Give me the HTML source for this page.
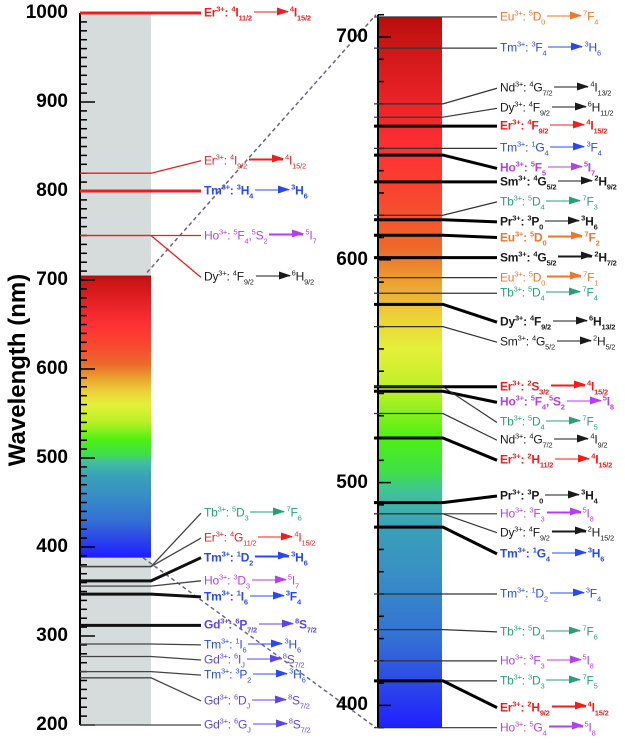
<!DOCTYPE html>
<html><head><meta charset="utf-8"><style>
body{margin:0;background:#fff;}
#wrap{position:relative;width:625px;height:743px;overflow:hidden;font-family:"Liberation Sans",sans-serif;}
svg{position:absolute;left:0;top:0;}
.lbl{position:absolute;white-space:nowrap;font-size:12px;line-height:13px;transform:translateY(-50%);letter-spacing:-0.2px;}
.lbl sup{font-size:7.5px;vertical-align:5px;line-height:0;}
.lbl sub{font-size:7.5px;vertical-align:-4px;line-height:0;}
.arr{display:inline-block;position:relative;width:34px;height:1.3px;vertical-align:4px;margin:0 2px;}
.arr::after{content:"";position:absolute;right:-1px;top:-4px;border-left:12px solid currentColor;border-top:4.5px solid transparent;border-bottom:4.5px solid transparent;}
.b{font-weight:bold;}
.tick{position:absolute;font-weight:bold;font-size:19px;transform:translateY(-50%);text-align:right;width:60px;}
</style></head><body>
<div id="wrap">
<svg id="svg" width="625" height="743"></svg>
<div style="position:absolute;left:18px;top:370px;transform:translate(-50%,-50%) rotate(-90deg);font-weight:bold;font-size:24px;white-space:nowrap">Wavelength (nm)</div>
</div>
<script>
// ---------- data ----------
const leftTicks=[200,300,400,500,600,700,800,900,1000];
const rightTicks=[400,500,600,700];
const leftWl=[1000,820,800,750,750,378,378,362,356,347,312,291,277,260,253,200];
const leftLabelWl=[1000,834,800,750,703,438,410,388,362,344,312,290,273,256,227,200];
const leftIon=["Er","Er","Tm","Ho","Dy","Tb","Er","Tm","Ho","Tm","Gd","Tm","Gd","Tm","Gd","Gd"];
const leftFrom=["<sup>4</sup>I<sub>11/2</sub>","<sup>4</sup>I<sub>9/2</sub>","<sup>3</sup>H<sub>4</sub>","<sup>5</sup>F<sub>4</sub>,<sup>5</sup>S<sub>2</sub>","<sup>4</sup>F<sub>9/2</sub>","<sup>5</sup>D<sub>3</sub>","<sup>4</sup>G<sub>11/2</sub>","<sup>1</sup>D<sub>2</sub>","<sup>3</sup>D<sub>3</sub>","<sup>1</sup>I<sub>6</sub>","<sup>6</sup>P<sub>7/2</sub>","<sup>1</sup>I<sub>6</sub>","<sup>6</sup>I<sub>J</sub>","<sup>3</sup>P<sub>2</sub>","<sup>6</sup>D<sub>J</sub>","<sup>6</sup>G<sub>J</sub>"];
const leftTo=["<sup>4</sup>I<sub>15/2</sub>","<sup>4</sup>I<sub>15/2</sub>","<sup>3</sup>H<sub>6</sub>","<sup>5</sup>I<sub>7</sub>","<sup>6</sup>H<sub>9/2</sub>","<sup>7</sup>F<sub>6</sub>","<sup>4</sup>I<sub>15/2</sub>","<sup>3</sup>H<sub>6</sub>","<sup>5</sup>I<sub>7</sub>","<sup>3</sup>F<sub>4</sub>","<sup>8</sup>S<sub>7/2</sub>","<sup>3</sup>H<sub>6</sub>","<sup>8</sup>S<sub>7/2</sub>","<sup>3</sup>H<sub>6</sub>","<sup>8</sup>S<sub>7/2</sub>","<sup>8</sup>S<sub>7/2</sub>"];
const leftBold=[1,0,1,0,0,0,0,1,0,1,1,0,0,0,0,0];
const rightWl=[709,695,670,664,660,650,647,635,620,618,611,601,592,585,580,570,543,541,543,531,520,491,486,486,480,450,434,420,411,411,390];
const rightLabelWl=[709,695,677,668,660,650,641,635,626,617,610,601,592,585,572,563,543,536,527,519,510,494,486,477.5,468,450,433,420,411,399,390];
const rightIon=["Eu","Tm","Nd","Dy","Er","Tm","Ho","Sm","Tb","Pr","Eu","Sm","Eu","Tb","Dy","Sm","Er","Ho","Tb","Nd","Er","Pr","Ho","Dy","Tm","Tm","Tb","Ho","Tb","Er","Ho"];
const rightFrom=["<sup>5</sup>D<sub>0</sub>","<sup>3</sup>F<sub>4</sub>","<sup>4</sup>G<sub>7/2</sub>","<sup>4</sup>F<sub>9/2</sub>","<sup>4</sup>F<sub>9/2</sub>","<sup>1</sup>G<sub>4</sub>","<sup>5</sup>F<sub>5</sub>","<sup>4</sup>G<sub>5/2</sub>","<sup>5</sup>D<sub>4</sub>","<sup>3</sup>P<sub>0</sub>","<sup>5</sup>D<sub>0</sub>","<sup>4</sup>G<sub>5/2</sub>","<sup>5</sup>D<sub>0</sub>","<sup>5</sup>D<sub>4</sub>","<sup>4</sup>F<sub>9/2</sub>","<sup>4</sup>G<sub>5/2</sub>","<sup>2</sup>S<sub>3/2</sub>","<sup>5</sup>F<sub>4</sub>,<sup>5</sup>S<sub>2</sub>","<sup>5</sup>D<sub>4</sub>","<sup>4</sup>G<sub>7/2</sub>","<sup>2</sup>H<sub>11/2</sub>","<sup>3</sup>P<sub>0</sub>","<sup>3</sup>F<sub>3</sub>","<sup>4</sup>F<sub>9/2</sub>","<sup>1</sup>G<sub>4</sub>","<sup>1</sup>D<sub>2</sub>","<sup>5</sup>D<sub>4</sub>","<sup>3</sup>F<sub>3</sub>","<sup>3</sup>D<sub>3</sub>","<sup>2</sup>H<sub>9/2</sub>","<sup>5</sup>G<sub>4</sub>"];
const rightTo=["<sup>7</sup>F<sub>4</sub>","<sup>3</sup>H<sub>6</sub>","<sup>4</sup>I<sub>13/2</sub>","<sup>6</sup>H<sub>11/2</sub>","<sup>4</sup>I<sub>15/2</sub>","<sup>3</sup>F<sub>4</sub>","<sup>5</sup>I<sub>7</sub>","<sup>2</sup>H<sub>9/2</sub>","<sup>7</sup>F<sub>3</sub>","<sup>3</sup>H<sub>6</sub>","<sup>7</sup>F<sub>2</sub>","<sup>2</sup>H<sub>7/2</sub>","<sup>7</sup>F<sub>1</sub>","<sup>7</sup>F<sub>4</sub>","<sup>6</sup>H<sub>13/2</sub>","<sup>2</sup>H<sub>5/2</sub>","<sup>4</sup>I<sub>15/2</sub>","<sup>5</sup>I<sub>8</sub>","<sup>7</sup>F<sub>5</sub>","<sup>4</sup>I<sub>9/2</sub>","<sup>4</sup>I<sub>15/2</sub>","<sup>3</sup>H<sub>4</sub>","<sup>5</sup>I<sub>8</sub>","<sup>2</sup>H<sub>15/2</sub>","<sup>3</sup>H<sub>6</sub>","<sup>3</sup>F<sub>4</sub>","<sup>7</sup>F<sub>6</sub>","<sup>5</sup>I<sub>8</sub>","<sup>7</sup>F<sub>5</sub>","<sup>4</sup>I<sub>15/2</sub>","<sup>5</sup>I<sub>8</sub>"];
const rightBold=[0,0,0,0,1,0,1,1,0,1,1,1,0,0,1,0,1,1,0,0,1,1,0,0,1,0,0,0,0,1,0];

const ionColor={Er:"#f21c1c",Tm:"#2848f5",Ho:"#b43ef0",Dy:"#1a1a1a",Tb:"#27a07a",Nd:"#1a1a1a",Sm:"#1a1a1a",Pr:"#1a1a1a",Eu:"#f0762c",Gd:"#5a46ee"};

const yL=v=>13+(1000-v)*0.89;
const yR=v=>37+(700-v)*2.228;
const svg=document.getElementById('svg'),wrap=document.getElementById('wrap');
const NS="http://www.w3.org/2000/svg";
function mk(t,a){const e=document.createElementNS(NS,t);for(const k in a)e.setAttribute(k,a[k]);svg.appendChild(e);return e;}

const specWl=[710,700,680,650,625,605,590,575,560,540,520,505,495,480,460,430,410,390];
const specCol=["#b80c0c","#c81414","#e01e22","#ff3034","#f84a30","#ec6a2a","#eca030","#ecd038","#e4f03a","#b8f024","#4cf014","#40e048","#40c0a0","#3aa0b8","#3890c4","#3470d4","#2c48e8","#2020ff"];
const defs=mk('defs',{});
function grad(id,top,bot){
  const g=document.createElementNS(NS,'linearGradient');
  g.setAttribute('id',id);g.setAttribute('x1','0');g.setAttribute('x2','0');g.setAttribute('y1','0');g.setAttribute('y2','1');
  specWl.forEach((w,i)=>{const s=document.createElementNS(NS,'stop');
    s.setAttribute('offset',Math.min(1,Math.max(0,(w-top)/(bot-top))));s.setAttribute('stop-color',specCol[i]);g.appendChild(s);});
  defs.appendChild(g);
}
grad('gL',705,388);grad('gR',709,390);

let e=mk('rect',{x:79,y:yL(1000),width:72,height:yL(200)-yL(1000),fill:"#d6dcdb"});

e=mk('rect',{x:79,y:yL(705),width:72,height:yL(388)-yL(705),fill:"url(#gL)"});

e=mk('rect',{x:378,y:yR(709),width:64,height:yR(390)-yR(709),fill:"url(#gR)"});


e=mk('line',{x1:80,x2:80,y1:yL(1000),y2:yL(200),stroke:"#000","stroke-width":2});

for(let v=200;v<=1000;v+=10){const maj=v%100===0;
  e=mk('line',{x1:80,x2:maj?95:87,y1:yL(v),y2:yL(v),stroke:"#000","stroke-width":1.5});
  }
e=mk('line',{x1:378,x2:378,y1:yR(710),y2:yR(390),stroke:"#000","stroke-width":2});

for(let v=390;v<=710;v+=10){const maj=v%100===0;
  e=mk('line',{x1:378,x2:maj?391:384,y1:yR(v),y2:yR(v),stroke:"#000","stroke-width":1.5});
  }

function tickLabel(v,x,y,name){const d=document.createElement('div');d.className='tick';d.textContent=v;
  d.style.left=x+'px';d.style.top=y+'px';
  
  
  wrap.appendChild(d);}
leftTicks.forEach(v=>tickLabel(v,8,yL(v),'left-tick-label'));
rightTicks.forEach(v=>tickLabel(v,308,yR(v),'right-tick-label'));

e=mk('line',{x1:147,y1:yL(705)-3,x2:376,y2:yR(710),stroke:"#667",'stroke-width':1.5,'stroke-dasharray':'4,3'});

e=mk('line',{x1:143,y1:yL(388),x2:376,y2:yR(390),stroke:"#667",'stroke-width':1.5,'stroke-dasharray':'4,3'});


function label(x,y,ion,from,to,bold,name){
  const d=document.createElement('div');d.className='lbl'+(bold?' b':'');
  const c=ionColor[ion];d.style.color=c;d.style.left=x+'px';d.style.top=y+'px';
  d.innerHTML=ion+'<sup>3+</sup>: '+from+'<span class="arr" style="background:'+c+'"></span>'+to;
  
  
  wrap.appendChild(d);
}
leftWl.forEach((w,i)=>{
  const y=yL(w),ly=yL(leftLabelWl[i]);const top=w>=700;
  const col=top?"#f21c1c":(leftBold[i]?"#111":"#444");const sw=leftBold[i]?3:1.3;
  e=mk('polyline',{points:`80,${y} 151,${y} 201,${ly}`,fill:"none",stroke:col,'stroke-width':sw});
  
  label(204,ly,leftIon[i],leftFrom[i],leftTo[i],leftBold[i],'left-transition-label');
});
rightWl.forEach((w,i)=>{
  const y=yR(w),ly=yR(rightLabelWl[i]);
  const sw=rightBold[i]?3:1.2;
  e=mk('polyline',{points:`374,${y} 443,${y} 497,${ly}`,fill:"none",stroke:rightBold[i]?"#000":"#333",'stroke-width':sw});
  
  label(500,ly,rightIon[i],rightFrom[i],rightTo[i],rightBold[i],'right-transition-label');
});
</script>
</body></html>
